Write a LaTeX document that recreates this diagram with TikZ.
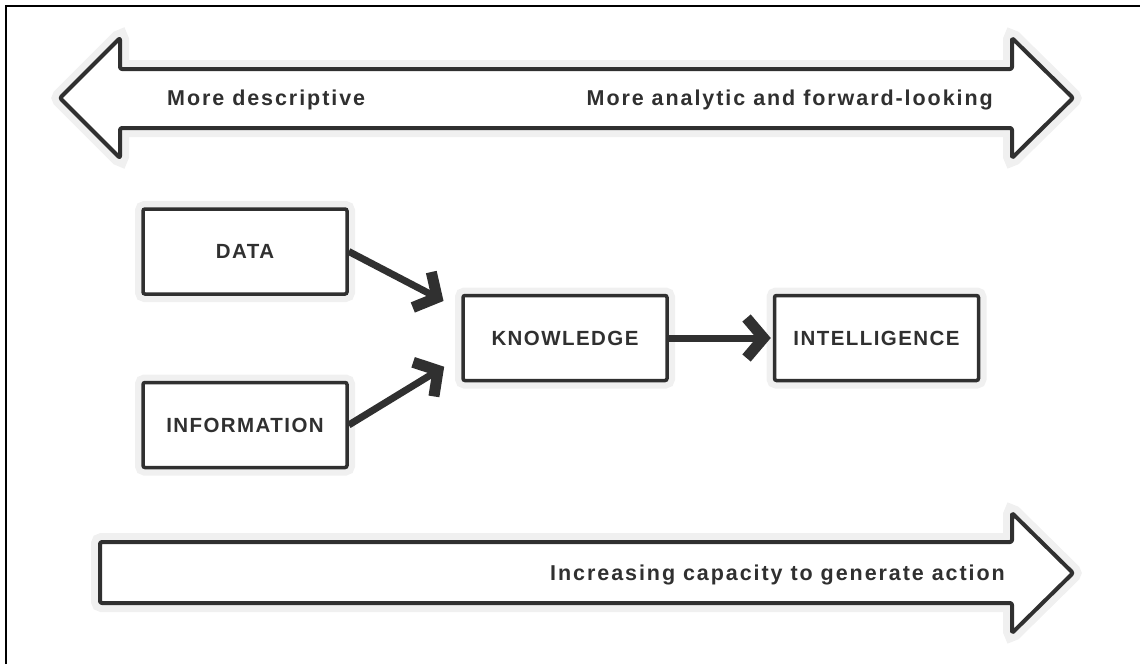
\documentclass[tikz,border=0pt]{standalone}
\usepackage{fontspec}
\setmainfont{Liberation Sans}
\newfontfamily\labelfont[LetterSpace=7]{Liberation Sans}
\newfontfamily\bandfont[LetterSpace=9]{Liberation Sans}
\usepackage{xcolor}
\usetikzlibrary{arrows.meta,positioning}
\definecolor{ink}{HTML}{303030}

\begin{document}
\begin{tikzpicture}[x=1pt, y=-1pt, node distance=85pt,
  box/.style={rectangle, draw=ink, line width=3.5pt, rounded corners=2pt, fill=white,
    minimum width=204pt, minimum height=85pt, text=ink,
    font=\labelfont\bfseries\fontsize{20.5}{24}\selectfont,
    preaction={draw=black!6, line width=16pt}},
  band/.style={draw=ink, line width=4pt, line join=round, rounded corners=2pt, fill=white,
    preaction={draw=black!6, line width=18pt}},
  bandtext/.style={inner sep=0pt, text=ink, font=\bandfont\bfseries\fontsize{21.5}{25}\selectfont},
  flow/.style={draw=ink, line width=7pt, -{Straight Barb[length=17pt, width=40pt, line width=11pt]}}]
\useasboundingbox (0,0) rectangle (1140,664);
\draw[line width=2pt] (6,664) -- (6,6) -- (1140,6);

% top band: descriptive <-> analytic
\draw[band] (60,98) -- (120,38) -- (120,69) -- (1012,69) -- (1012,38) -- (1073,98)
  -- (1012,158) -- (1012,128) -- (120,128) -- (120,158) -- cycle;
\node[bandtext, anchor=base west] (descriptive) at (167,105) {More descriptive};
\node[bandtext, anchor=base east] (analytic) at (993,105) {More analytic and forward-looking};

% bottom band
\draw[band] (100,542) -- (1012,542) -- (1012,513) -- (1073,573) -- (1012,633)
  -- (1012,603) -- (100,603) -- cycle;
\node[bandtext, anchor=base east] (capacity) at (1005,580) {Increasing capacity to generate action};

\node[box] (data) at (245,251.5) {DATA};
\node[box, below=of data] (information) {INFORMATION};
\node[box] (knowledge) at (565,338) {KNOWLEDGE};
\node[box, right=104pt of knowledge] (intelligence) {INTELLIGENCE};

\draw[flow, shorten >=20pt] (data.east) -- (knowledge.165);
\draw[flow, shorten >=20pt] (information.east) -- (knowledge.190);
\draw[flow, shorten >=2pt] (knowledge.east) -- (intelligence.west);
\end{tikzpicture}
\end{document}
